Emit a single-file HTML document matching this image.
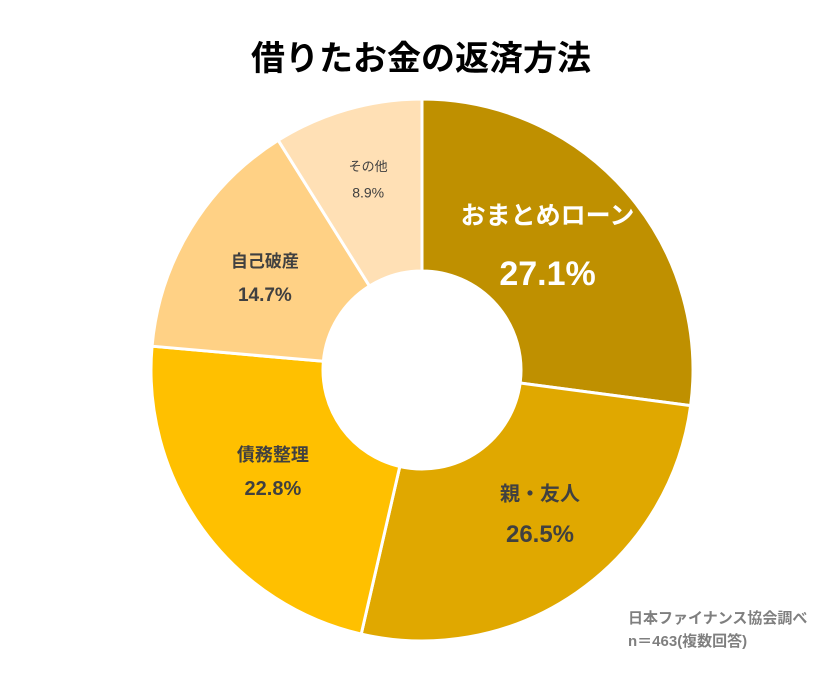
<!DOCTYPE html>
<html><head><meta charset="utf-8"><style>
body{margin:0;width:840px;height:672px;background:#fff;overflow:hidden;font-family:"Liberation Sans","Noto Sans CJK JP",sans-serif}
</style></head><body>
<svg width="840" height="672" id="c">
<text x="421" y="70" text-anchor="middle" font-size="34" font-weight="bold" fill="#000">借りたお金の返済方法</text>
<g id="slices"></g>
<g id="labels"></g>
<text x="628" y="623" font-size="15" font-weight="bold" fill="#7f7f7f">日本ファイナンス協会調べ</text>
<text x="628" y="646" font-size="15" font-weight="bold" fill="#7f7f7f">n＝463(複数回答)</text>
</svg>
<script>
const categories=["おまとめローン","親・友人","債務整理","自己破産","その他"];
const values=[27.1,26.5,22.8,14.7,8.9];
const valueLabels=["27.1%","26.5%","22.8%","14.7%","8.9%"];
const colors=["#BF9000","#E0A800","#FFC000","#FFD185","#FFE0B5"];
const cx=422,cy=370,R=271,r=99;
const ns="http://www.w3.org/2000/svg";
const total=values.reduce((a,b)=>a+b,0);
const sg=document.getElementById('slices'),lg=document.getElementById('labels');
function pt(a,rad){return [cx+rad*Math.sin(a),cy-rad*Math.cos(a)];}
let acc=0;
const style=[{fs:25,vs:34,c:"#fff",lr:0.66,vo:58,dx:-9,dy:-8},{fs:20,vs:24,c:"#404040",lr:0.68,vo:40,dx:13,dy:-8},{fs:18,vs:20,c:"#404040",lr:0.68,vo:33,dx:0,dy:-7},{fs:17,vs:19,c:"#404040",lr:0.68,vo:33,dx:0,dy:4},{fs:13,vs:14,c:"#404040",lr:0.72,vo:26,dx:0,dy:-3}];
values.forEach((v,i)=>{
 const a0=acc/total*2*Math.PI; acc+=v; const a1=acc/total*2*Math.PI;
 const large=(a1-a0)>Math.PI?1:0;
 const p0=pt(a0,R),p1=pt(a1,R),q1=pt(a1,r),q0=pt(a0,r);
 const p=document.createElementNS(ns,'path');
 p.setAttribute('d',`M${p0[0]},${p0[1]}A${R},${R} 0 ${large} 1 ${p1[0]},${p1[1]}L${q1[0]},${q1[1]}A${r},${r} 0 ${large} 0 ${q0[0]},${q0[1]}Z`);
 p.setAttribute('fill',colors[i]);p.setAttribute('stroke','#fff');p.setAttribute('stroke-width','3');
 
 
 sg.appendChild(p);
 const s=style[i];const am=(a0+a1)/2;const c=pt(am,R*s.lr);
 const x=c[0]+s.dx,y=c[1]+s.dy;
 const t=document.createElementNS(ns,'text');
 t.setAttribute('x',x);t.setAttribute('y',y-s.vo/2+s.fs*0.35);t.setAttribute('text-anchor','middle');
 t.setAttribute('font-size',s.fs);t.setAttribute('font-weight',i==4?'normal':'bold');t.setAttribute('fill',s.c);
 t.textContent=categories[i];
 
 
 lg.appendChild(t);
 const t2=document.createElementNS(ns,'text');
 t2.setAttribute('x',x);t2.setAttribute('y',y+s.vo/2+s.vs*0.35);t2.setAttribute('text-anchor','middle');
 t2.setAttribute('font-size',s.vs);t2.setAttribute('font-weight',i==4?'normal':'bold');t2.setAttribute('fill',s.c);
 t2.textContent=valueLabels[i];
 
 
 lg.appendChild(t2);
});
</script>
</body></html>
